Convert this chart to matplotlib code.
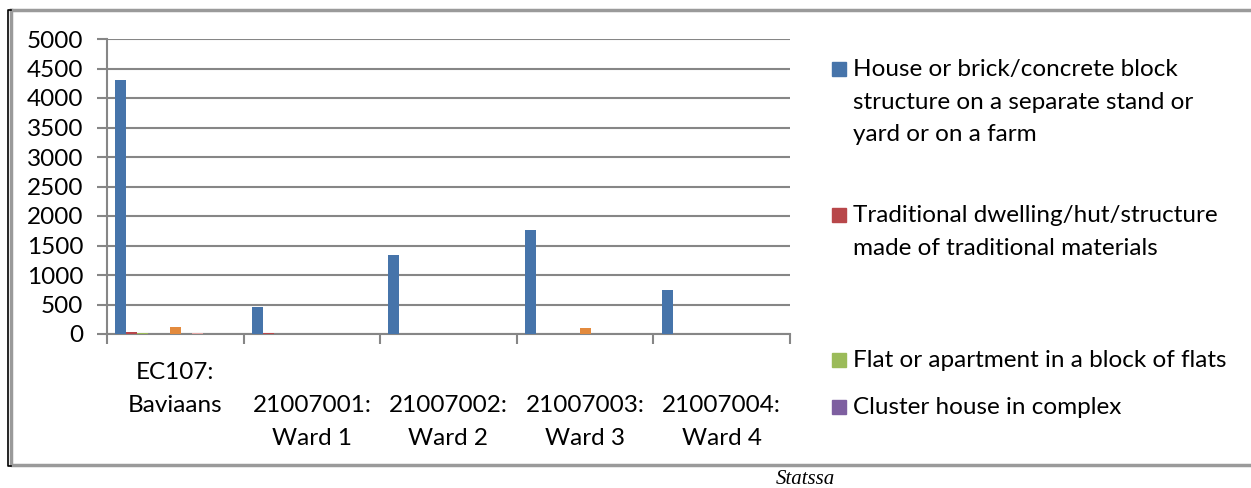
import matplotlib
matplotlib.use("Agg")
import matplotlib.pyplot as plt
from matplotlib.patches import Rectangle
from matplotlib.lines import Line2D
import numpy as np

# categorias (eje x)
categorias = ["EC107:\nBaviaans", "\n21007001:\nWard 1", "\n21007002:\nWard 2",
              "\n21007003:\nWard 3", "\n21007004:\nWard 4"]

# series (tipo de vivienda)
series = [
    "House or brick/concrete block\nstructure on a separate stand or\nyard or on a farm",
    "Traditional dwelling/hut/structure\nmade of traditional materials",
    "Flat or apartment in a block of flats",
    "Cluster house in complex",
    "Townhouse",
    "Semi-detached house",
    "House/flat/room in backyard",
    "Informal dwelling in backyard",
    "Informal dwelling not in backyard",
    "Room/flatlet on a property",
    "Caravan/tent",
]

valores = [
    [4300, 452, 1339, 1763, 746],
    [40, 18, 8, 8, 6],
    [10, 3, 2, 3, 2],
    [3, 1, 1, 1, 0],
    [4, 1, 1, 1, 1],
    [124, 5, 6, 107, 6],
    [3, 1, 1, 1, 0],
    [10, 3, 2, 3, 2],
    [3, 1, 1, 1, 0],
    [2, 1, 0, 1, 0],
    [2, 0, 1, 1, 0],
]

colores = ["#4674AA", "#B8474A", "#9BBB59", "#7E5FA0", "#4BACC6", "#E38A3D",
           "#95B3D7", "#E5A8A6", "#C3D69B", "#B3A2C7", "#93CDDD"]

W, H = 1251, 488
fig = plt.figure(figsize=(W / 100, H / 100), dpi=100)
plt.rcParams["font.family"] = ["Lato", "DejaVu Sans"]
tam = 17.5

# area del grafico en pixeles
x0, x1, y0, y1 = 107, 790, 39, 334
ax = fig.add_axes([x0 / W, 1 - y1 / H, (x1 - x0) / W, (y1 - y0) / H])

n = len(series)
ancho = 1 / (n + 1.5)
x = np.arange(len(categorias))
for i in range(n):
    pos = x - 0.5 + 0.75 * ancho + (i + 0.5) * ancho
    ax.bar(pos, valores[i], width=ancho, color=colores[i], zorder=3)

gris = "#868686"
ax.set_xlim(-0.5, len(categorias) - 0.5)
ax.set_ylim(0, 5000)
ax.set_yticks(range(0, 5001, 500))
ax.grid(axis="y", color=gris, linewidth=1.5, zorder=0)
for s in ["top", "right"]:
    ax.spines[s].set_visible(False)
for s in ["left", "bottom"]:
    ax.spines[s].set_color(gris)
    ax.spines[s].set_linewidth(1.5)

ax.set_xticks(x)
ax.set_xticklabels(categorias, fontsize=tam, linespacing=1.72, va="top")
ax.set_xticks(np.arange(len(categorias) + 1) - 0.5, minor=True)
ax.tick_params(axis="x", which="major", length=0, pad=20)
ax.tick_params(axis="x", which="minor", length=7, width=1.5, color=gris)
ax.tick_params(axis="y", length=7, width=1.5, color=gris, labelsize=tam, pad=10)

# leyenda (solo se ven las 4 primeras entradas)
ley_y = [69, 215, 360, 407]
for i, yy in enumerate(ley_y):
    fig.add_artist(Rectangle((832 / W, 1 - (yy + 7) / H), 14 / W, 14 / H,
                             transform=fig.transFigure, color=colores[i]))
    fig.text(853 / W, 1 - (yy - 10) / H, series[i], fontsize=tam,
             linespacing=1.68, va="top", ha="left")

# marco exterior
def linea(xs, ys, color, lw):
    fig.add_artist(Line2D([v / W for v in xs], [1 - v / H for v in ys],
                          transform=fig.transFigure, color=color, linewidth=lw))

linea([11, 11, 1251], [10, 465, 465], "#9a9a9a", 2.5)
linea([11, 1251], [10, 10], "#9a9a9a", 2.5)
linea([11, 7.5, 7.5, 11], [10, 10, 466, 466], "black", 1.2)

fig.text(805 / W, 1 - 479 / H, "Statssa", fontsize=15, style="italic",
         family="Liberation Serif", ha="center", va="center")

fig.savefig("out.png", dpi=100)
